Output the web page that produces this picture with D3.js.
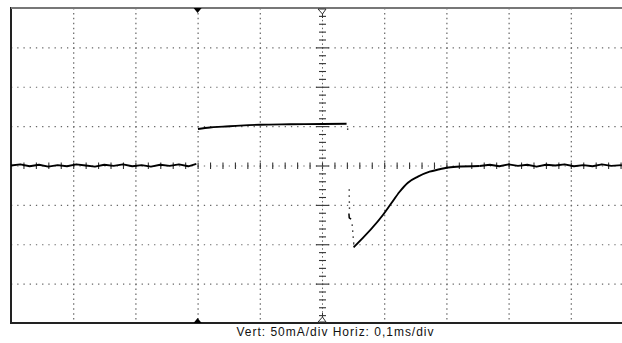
<!DOCTYPE html>
<html>
<head>
<meta charset="utf-8">
<script src="https://cdn.jsdelivr.net/npm/d3@7"></script>
<style>
  body { margin: 0; background: #fff; }
  svg { display: block; }
</style>
</head>
<body>
<svg id="scope" width="622" height="343"></svg>
<script>
// Trace values: time in ms (trigger = 0), current in mA
const baseTime = [-0.3, -0.285, -0.27, -0.255, -0.24, -0.225, -0.21, -0.195, -0.18, -0.165,
    -0.15, -0.135, -0.12, -0.105, -0.09, -0.075, -0.06, -0.045, -0.03, -0.015, -0.002];
const baseCurrent = [0, 1.5, -1, 1, -1.5, 0.5, -1, 1.5, 0, -1.5, 1, -0.5, 1.5, -1, 0.5, -1.5, 1, -0.5, 1.5, -1, 2];

const highTime = [0.0006, 0.0199, 0.0408, 0.0682, 0.1003, 0.149, 0.2017, 0.2395];
const highCurrent = [46.3, 48.3, 49.3, 50.7, 51.8, 52.3, 52.7, 53.0];

// fast falling edge, only a few samples captured
const fallTime = [0.2411, 0.2436, 0.2436, 0.2438, 0.2440, 0.2484, 0.2492, 0.2500, 0.2508];
const fallCurrent = [46.3, -31, -38.7, -46.3, -54, -75.6, -83.2, -90.8, -98.4];
const glitchTime = [0.2433, 0.2438, 0.2468];
const glitchCurrent = [-61, -66.5, -68];

const recTime = [0.2508, 0.2979, 0.3114, 0.3248, 0.3381, 0.3542, 0.373, 0.3891, 0.3999, 0.416, 0.4534];
const recCurrent = [-103.9, -62.9, -48, -33.3, -21.8, -14.2, -7.9, -4.8, -2.8, -1.5, -0.6];

const tailTime = [0.4534, 0.47, 0.485, 0.5, 0.515, 0.53, 0.545, 0.56, 0.575, 0.59, 0.605, 0.62, 0.635, 0.65, 0.665, 0.682];
const tailCurrent = [-0.6, 1, -1, 1.5, -0.5, 1, -1.5, 1, 0, 1.5, -1, 0.5, -1, 1.5, -0.5, 0.5];

const caption = "Vert: 50mA/div Horiz: 0,1ms/div";

const plotLeft = 11, plotTop = 8, divW = 62.2, divH = 39.375;
const nx = 10, ny = 8;

const svg = d3.select("#scope");

const x = d3.scaleLinear().domain([-0.3, 0.7]).range([plotLeft, plotLeft + nx * divW]);
const y = d3.scaleLinear().domain([-200, 200]).range([plotTop + ny * divH, plotTop]);

const cx = x(0.2), cy = y(0);
const plotRight = x(0.7), plotBottom = y(-200);

const grid = svg.append("g");

// dotted graticule
d3.range(1, ny).filter(k => k !== ny / 2).forEach(k => {
    grid.append("line")
        .attr("x1", plotLeft).attr("x2", plotRight)
        .attr("y1", plotTop + k * divH + 0.5).attr("y2", plotTop + k * divH + 0.5)
        .attr("stroke", "#666").attr("stroke-width", 1.2)
        .attr("stroke-dasharray", `1.3 ${divW / 10 - 1.3}`);
});
d3.range(1, nx).filter(k => k !== nx / 2).forEach(k => {
    grid.append("line")
        .attr("x1", plotLeft + k * divW + 0.5).attr("x2", plotLeft + k * divW + 0.5)
        .attr("y1", plotTop).attr("y2", plotBottom)
        .attr("stroke", "#666").attr("stroke-width", 1.2)
        .attr("stroke-dasharray", `1.5 ${divH / 8 - 1.5}`);
});

// center horizontal axis with minor ticks
grid.append("line")
    .attr("x1", plotLeft).attr("x2", plotRight)
    .attr("y1", cy + 0.5).attr("y2", cy + 0.5)
    .attr("stroke", "#666").attr("stroke-width", 1.2)
    .attr("stroke-dasharray", `1.3 ${divW / 10 - 1.3}`);
d3.range(0, nx * 5 + 1).forEach(i => {
    const px = plotLeft + i * divW / 5 + 0.5;
    grid.append("line")
        .attr("x1", px).attr("x2", px)
        .attr("y1", cy - 3).attr("y2", cy + 3.5)
        .attr("stroke", "#333").attr("stroke-width", 1.1);
});

// center vertical axis with minor ticks
grid.append("line")
    .attr("x1", cx + 0.5).attr("x2", cx + 0.5)
    .attr("y1", plotTop).attr("y2", plotBottom)
    .attr("stroke", "#666").attr("stroke-width", 1)
    .attr("stroke-dasharray", `1.5 ${divH / 10 - 1.5}`);
d3.range(1, ny * 5).forEach(i => {
    const py = plotTop + i * divH / 5 + 0.5;
    const major = i % 5 === 0;
    grid.append("line")
        .attr("x1", cx - (major ? 6 : 3)).attr("x2", cx + (major ? 7 : 4))
        .attr("y1", py).attr("y2", py)
        .attr("stroke", "#333").attr("stroke-width", 1.1);
});

// frame
svg.append("rect")
    .attr("x", plotLeft).attr("y", plotTop)
    .attr("width", plotRight - plotLeft).attr("height", plotBottom - plotTop)
    .attr("fill", "none").attr("stroke", "#222").attr("stroke-width", 2);
svg.append("line")
    .attr("x1", plotLeft).attr("x2", plotRight)
    .attr("y1", plotTop).attr("y2", plotTop)
    .attr("stroke", "#777").attr("stroke-width", 2);

// markers: trigger position (filled) and center (hollow)
const tx = x(0);
svg.append("path")
    .attr("d", `M${tx - 4},${plotTop} L${tx + 4},${plotTop} L${tx},${plotTop + 5} Z`)
    .attr("fill", "#000");
svg.append("path")
    .attr("d", `M${tx - 4},${plotBottom} L${tx + 4},${plotBottom} L${tx},${plotBottom - 5} Z`)
    .attr("fill", "#000");
svg.append("path")
    .attr("d", `M${cx - 4},${plotTop + 1} L${cx + 4},${plotTop + 1} L${cx + 0.5},${plotTop + 6} Z M${cx + 0.5},${plotTop + 6} V${plotTop + 10}`)
    .attr("fill", "#fff").attr("stroke", "#333").attr("stroke-width", 1);
svg.append("path")
    .attr("d", `M${cx - 4},${plotBottom - 1} L${cx + 4},${plotBottom - 1} L${cx + 0.5},${plotBottom - 6} Z M${cx + 0.5},${plotBottom - 6} V${plotBottom - 10}`)
    .attr("fill", "#fff").attr("stroke", "#333").attr("stroke-width", 1);

// trace
const line = d3.line().x(d => x(d[0])).y(d => y(d[1]));
const smooth = d3.line().x(d => x(d[0])).y(d => y(d[1])).curve(d3.curveMonotoneX);
const trace = svg.append("g")
    .attr("fill", "none").attr("stroke", "#000")
    .attr("stroke-width", 1.9).attr("stroke-linejoin", "round");

trace.append("path").attr("d", line(d3.zip(baseTime, baseCurrent)));
trace.append("path").attr("d", smooth(d3.zip(highTime, highCurrent)));
trace.append("path").attr("d", smooth(d3.zip(recTime, recCurrent)));
trace.append("path").attr("d", line(d3.zip(tailTime, tailCurrent)));
trace.append("path").attr("d", line(d3.zip(glitchTime, glitchCurrent)))
    .attr("stroke-width", 1.5);

svg.append("g").selectAll("rect")
    .data(d3.zip(fallTime, fallCurrent))
    .join("rect")
    .attr("x", d => x(d[0]) - 0.6).attr("y", d => y(d[1]) - 0.6)
    .attr("width", 1.4).attr("height", 1.4)
    .attr("fill", "#222");

// caption
svg.append("text")
    .attr("x", 335).attr("y", 336)
    .attr("text-anchor", "middle")
    .attr("font-family", "Liberation Sans, Arial, sans-serif")
    .attr("font-size", 12)
    .attr("textLength", 197)
    .attr("lengthAdjust", "spacing")
    .attr("fill", "#111")
    .text(caption);
</script>
</body>
</html>
